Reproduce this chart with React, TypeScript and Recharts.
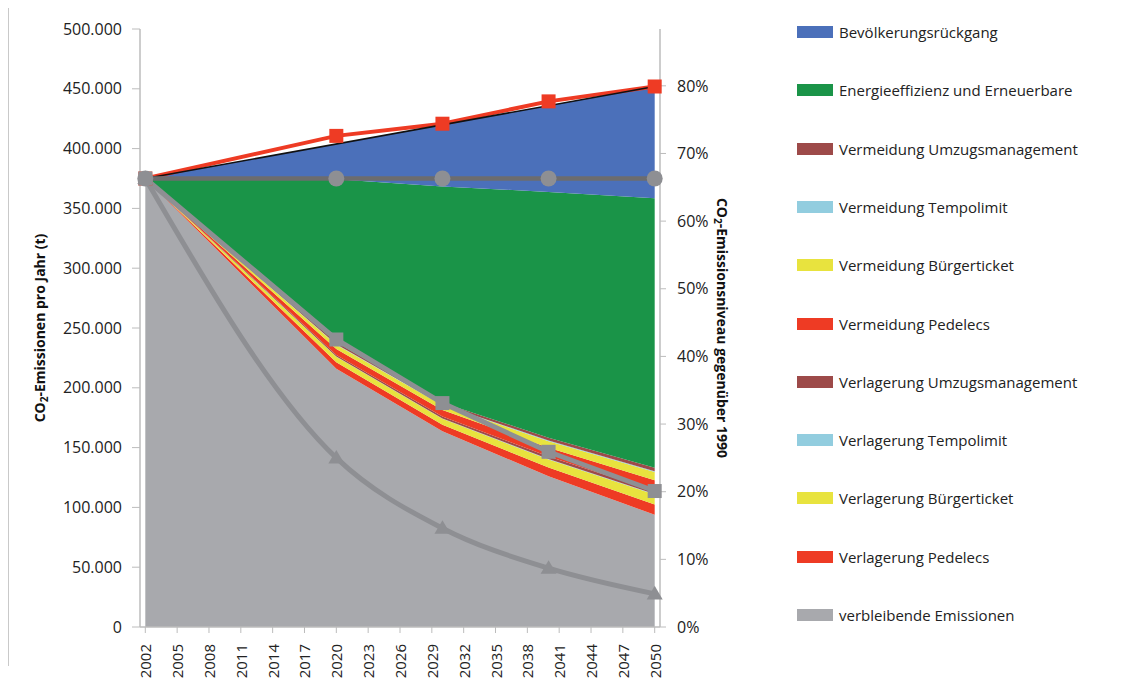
import {
  Area,
  ComposedChart,
  Line,
  XAxis,
  YAxis,
} from 'recharts';

// data points (the chart only has values for these years)
const years = [2002, 2020, 2030, 2040, 2050];

// stacked areas, tonnes CO2 per year (bottom to top)
const verbleibend = [375000, 215900, 163600, 126100, 93800];
const verlPedelecs = [0, 5500, 5500, 7200, 8700];
const verlBuergerticket = [0, 4500, 5000, 6700, 8200];
const verlTempolimit = [0, 300, 300, 400, 500];
const verlUmzug = [0, 1300, 1500, 2100, 2600];
const vermPedelecs = [0, 5000, 5500, 7300, 8900];
const vermBuergerticket = [0, 3500, 4000, 5600, 6900];
const vermTempolimit = [0, 400, 400, 500, 600];
const vermUmzug = [0, 1500, 1800, 2400, 3000];
const energie = [0, 136500, 180700, 205500, 225200];
const bevoelkerung = [0, 29500, 51600, 72200, 93600];

// lines, % of 1990 level (right axis)
const trendPct = [66.3, 72.6, 74.4, 77.7, 79.9];
const trendLinePct = [66.3, null, null, null, 79.9];
const niveauPct = [66.3, 66.3, 66.3, 66.3, 66.3];
const zielPct = [66.3, 42.5, 33.1, 25.9, 20.1];
const pfadPct = [66.3, 25.0, 14.6, 8.7, 4.9];

// axis ticks
const xTicks = [2002, 2005, 2008, 2011, 2014, 2017, 2020, 2023, 2026, 2029, 2032, 2035, 2038, 2041, 2044, 2047, 2050];
const leftTicks = [0, 50000, 100000, 150000, 200000, 250000, 300000, 350000, 400000, 450000, 500000];
const rightTicks = [0, 10, 20, 30, 40, 50, 60, 70, 80];

const series = [
  { key: 'verbleibend', name: 'verbleibende Emissionen', color: '#a8a9ad', values: verbleibend },
  { key: 'verlPedelecs', name: 'Verlagerung Pedelecs', color: '#ee3b24', values: verlPedelecs },
  { key: 'verlBuergerticket', name: 'Verlagerung Bürgerticket', color: '#e8e33e', values: verlBuergerticket },
  { key: 'verlTempolimit', name: 'Verlagerung Tempolimit', color: '#92cddf', values: verlTempolimit },
  { key: 'verlUmzug', name: 'Verlagerung Umzugsmanagement', color: '#9d4a49', values: verlUmzug },
  { key: 'vermPedelecs', name: 'Vermeidung Pedelecs', color: '#ee3b24', values: vermPedelecs },
  { key: 'vermBuergerticket', name: 'Vermeidung Bürgerticket', color: '#e8e33e', values: vermBuergerticket },
  { key: 'vermTempolimit', name: 'Vermeidung Tempolimit', color: '#92cddf', values: vermTempolimit },
  { key: 'vermUmzug', name: 'Vermeidung Umzugsmanagement', color: '#9d4a49', values: vermUmzug },
  { key: 'energie', name: 'Energieeffizienz und Erneuerbare', color: '#1a9448', values: energie },
  { key: 'bevoelkerung', name: 'Bevölkerungsrückgang', color: '#4b70ba', values: bevoelkerung },
];

const data = years.map((year, i) => {
  const row: Record<string, number | null> = {
    year,
    trend: trendPct[i],
    trendLine: trendLinePct[i],
    niveau: niveauPct[i],
    ziel: zielPct[i],
    pfad: pfadPct[i],
  };
  series.forEach((s) => {
    row[s.key] = s.values[i];
  });
  return row;
});

const FONT = '"Open Sans", sans-serif';
const AXIS = '#bcbcbc';
const LINE_GRAY = '#8e8f93';

const fmtThousands = (v: number) => String(v).replace(/\B(?=(\d{3})+(?!\d))/g, '.');

function XTick({ x, y, payload }: any) {
  return (
    <g transform={`translate(${x},${y})`}>
      <text
        x={-9}
        y={6}
        transform="rotate(-90)"
        textAnchor="end"
        fontSize={15}
        fontFamily={FONT}
        fill="#222"
      >
        {payload.value}
      </text>
    </g>
  );
}

function squareDot(color: string, size: number) {
  return (props: any) => {
    const { cx, cy, index } = props;
    if (cx == null || cy == null || props.value == null) return <g key={`s${index}`} />;
    return (
      <rect key={`s${index}`} x={cx - size / 2} y={cy - size / 2} width={size} height={size} fill={color} />
    );
  };
}

function triangleDot(props: any) {
  const { cx, cy, index } = props;
  if (cx == null || cy == null) return <g key={`t${index}`} />;
  const r = 8;
  return (
    <polygon
      key={`t${index}`}
      points={`${cx},${cy - r} ${cx + r},${cy + r * 0.7} ${cx - r},${cy + r * 0.7}`}
      fill={LINE_GRAY}
    />
  );
}

function LeftTitle({ viewBox }: any) {
  const cx = viewBox.x - 30;
  const cy = viewBox.y + viewBox.height / 2;
  return (
    <text
      x={cx}
      y={cy}
      dy={5}
      transform={`rotate(-90, ${cx}, ${cy})`}
      textAnchor="middle"
      fontSize={14}
      fontWeight="bold"
      fontFamily={FONT}
      fill="#111"
    >
      <tspan>CO</tspan>
      <tspan fontSize={10} dy={3}>2</tspan>
      <tspan dy={-3}>-Emissionen pro Jahr (t)</tspan>
    </text>
  );
}

function RightTitle({ viewBox }: any) {
  const cx = viewBox.x + 62;
  const cy = viewBox.y + viewBox.height / 2;
  return (
    <text
      x={cx}
      y={cy}
      dy={5}
      transform={`rotate(90, ${cx}, ${cy})`}
      textAnchor="middle"
      fontSize={14}
      fontWeight="bold"
      fontFamily={FONT}
      fill="#111"
    >
      <tspan>CO</tspan>
      <tspan fontSize={10} dy={3}>2</tspan>
      <tspan dy={-3}>-Emissionsniveau gegenüber 1990</tspan>
    </text>
  );
}

const legendItems = [...series].reverse();

export default function App() {
  return (
    <div style={{ position: 'relative', width: 1123, height: 671, fontFamily: FONT }}>
      {/* outer frame */}
      <div
        style={{
          position: 'absolute',
          left: 0,
          top: -3,
          width: 1110,
          height: 660,
          borderTop: '1px solid #c9c9c9',
          borderLeft: '1px solid #c9c9c9',
        }}
      />
      <div style={{ position: 'absolute', left: 0, top: 0 }}>
        <ComposedChart
          width={1123}
          height={671}
          data={data}
          margin={{ top: 21, right: 411, left: 62, bottom: 0 }}
        >
          <XAxis
            dataKey="year"
            type="number"
            domain={[2001.5, 2050.5]}
            ticks={xTicks}
            interval={0}
            height={52}
            tick={<XTick />}
            tickSize={6}
            stroke={AXIS}
            axisLine={{ stroke: AXIS, strokeWidth: 1.5 }}
          />
          <XAxis
            xAxisId="top"
            orientation="top"
            type="number"
            domain={[2001.5, 2050.5]}
            height={0}
            tick={false}
            tickLine={false}
            axisLine={{ stroke: AXIS, strokeWidth: 1.5 }}
          />
          <YAxis
            yAxisId="left"
            type="number"
            domain={[0, 500000]}
            ticks={leftTicks}
            width={70}
            tickSize={8}
            tickMargin={10}
            tickFormatter={fmtThousands}
            tick={{ fontSize: 16, fontFamily: FONT, fill: '#222' }}
            stroke={AXIS}
            axisLine={{ stroke: AXIS, strokeWidth: 1.5 }}
            label={{ content: <LeftTitle /> }}
          />
          <YAxis
            yAxisId="right"
            orientation="right"
            type="number"
            domain={[0, 88.4]}
            ticks={rightTicks}
            width={60}
            tickSize={6}
            tickMargin={11}
            tickFormatter={(v: number) => `${v}%`}
            tick={{ fontSize: 16, fontFamily: FONT, fill: '#222' }}
            stroke={AXIS}
            axisLine={{ stroke: AXIS, strokeWidth: 1.5 }}
            label={{ content: <RightTitle /> }}
          />

          {series.map((s) => (
            <Area
              key={s.key}
              yAxisId="left"
              type="linear"
              dataKey={s.key}
              name={s.name}
              stackId="emissionen"
              fill={s.color}
              fillOpacity={1}
              stroke="none"
              isAnimationActive={false}
            />
          ))}

          <Line
            yAxisId="right"
            type="linear"
            dataKey="trend"
            stroke="#ee3b24"
            strokeWidth={4}
            dot={squareDot('#ee3b24', 14)}
            isAnimationActive={false}
          />
          <Line
            yAxisId="right"
            type="linear"
            dataKey="trendLine"
            stroke="#111"
            strokeWidth={1.5}
            connectNulls
            dot={false}
            isAnimationActive={false}
          />
          <Line
            yAxisId="right"
            type="linear"
            dataKey="niveau"
            stroke="#6c6c6e"
            strokeWidth={4.5}
            dot={{ r: 8, fill: LINE_GRAY, stroke: 'none' }}
            isAnimationActive={false}
          />
          <Line
            yAxisId="right"
            type="monotone"
            dataKey="pfad"
            stroke={LINE_GRAY}
            strokeWidth={5}
            dot={triangleDot}
            isAnimationActive={false}
          />
          <Line
            yAxisId="right"
            type="linear"
            dataKey="ziel"
            stroke={LINE_GRAY}
            strokeWidth={5}
            dot={squareDot(LINE_GRAY, 14)}
            isAnimationActive={false}
          />
        </ComposedChart>
      </div>

      {/* legend */}
      {legendItems.map((s, i) => (
        <div
          key={s.key}
          style={{
            position: 'absolute',
            left: 789,
            top: 24 + i * 58.3 - 11,
            height: 22,
            display: 'flex',
            alignItems: 'center',
            whiteSpace: 'nowrap',
            fontSize: 15,
            color: '#222',
          }}
        >
          <span style={{ display: 'inline-block', width: 36, height: 12, background: s.color, marginRight: 6 }} />
          <span>{s.name}</span>
        </div>
      ))}
    </div>
  );
}
